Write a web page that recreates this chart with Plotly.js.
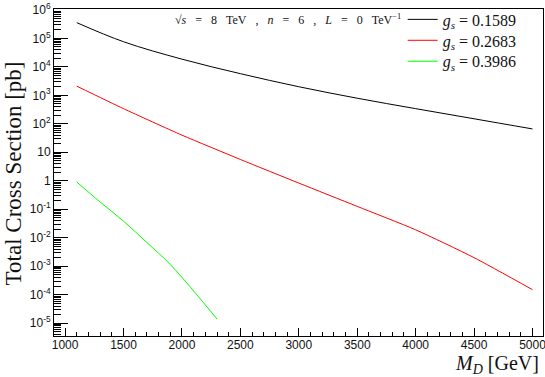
<!DOCTYPE html>
<html>
<head>
<meta charset="utf-8">
<script src="https://cdn.plot.ly/plotly-3.0.1.min.js"></script>
<style>
  html, body { margin: 0; padding: 0; background: #fff; }
  #chart { width: 545px; height: 377px; }
</style>
</head>
<body>
<div id="chart"></div>
<script>
// Mass points (GeV)
const massMain = [1100, 1500, 2000, 2500, 3000, 3500, 4000, 4500, 5000];
const massGreen = [1100, 1300, 1500, 1700, 1900, 2100, 2300];

// Total cross sections (pb)
const xsecG1589 = [3.55e5, 7.6e4, 1.86e4, 5.75e3, 2.0e3, 7.9e2, 3.4e2, 1.5e2, 66];
const xsecG2683 = [2.1e3, 3.4e2, 40, 5.6, 0.83, 0.126, 0.019, 2.0e-3, 1.5e-4];
const xsecG3986 = [0.9, 0.18, 0.038, 6.8e-3, 1.15e-3, 1.35e-4, 1.4e-5];

const seriesNames = [
    '<i>g<sub>s</sub></i> = 0.1589',
    '<i>g<sub>s</sub></i> = 0.2683',
    '<i>g<sub>s</sub></i> = 0.3986',
];

// Y tick labels
const yTickVals = [1e-5, 1e-4, 1e-3, 1e-2, 1e-1, 1, 10, 1e2, 1e3, 1e4, 1e5, 1e6];
const yTickText = ['10<sup>-5</sup>', '10<sup>-4</sup>', '10<sup>-3</sup>', '10<sup>-2</sup>',
    '10<sup>-1</sup>', '1', '10', '10<sup>2</sup>', '10<sup>3</sup>', '10<sup>4</sup>',
    '10<sup>5</sup>', '10<sup>6</sup>'];
const xTickVals = [1000, 1500, 2000, 2500, 3000, 3500, 4000, 4500, 5000];

// minor tick positions
const yMinor = [];
for (let e = -6; e <= 5; e++) {
    for (let m = 2; m <= 9; m++) yMinor.push(m * Math.pow(10, e));
}
const xMinor = [];
for (let v = 1000; v <= 5100; v += 100) xMinor.push(v);

const X_RANGE = [905, 5090];
const Y_RANGE = [-5.45, 6.03];
const SERIF = '"Liberation Serif", "DejaVu Serif", serif';
const SANS = '"Liberation Sans", Arial, sans-serif';

const data = [
    { x: massMain, y: xsecG1589, name: seriesNames[0], mode: 'lines', legend: 'legend',
      line: { color: '#000000', width: 1, shape: 'spline', smoothing: 1 } },
    { x: massMain, y: xsecG2683, name: seriesNames[1], mode: 'lines', legend: 'legend2',
      line: { color: '#ff0000', width: 1, shape: 'spline', smoothing: 0.6 } },
    { x: massGreen, y: xsecG3986, name: seriesNames[2], mode: 'lines', legend: 'legend3',
      line: { color: '#00ff00', width: 1, shape: 'spline', smoothing: 1 } },
    // empty trace so the minor-tick axes are drawn
    { x: [], y: [], xaxis: 'x2', yaxis: 'y2', showlegend: false, hoverinfo: 'skip' },
];

function legendAt(yPaper) {
    return {
        x: 0.713, y: yPaper, xanchor: 'left', yanchor: 'middle',
        bgcolor: 'rgba(0,0,0,0)', borderwidth: 0,
        font: { family: SERIF, size: 16, color: '#111' },
        itemwidth: 30,
    };
}

const sp = '&nbsp;&nbsp;&nbsp;';
const energyNote = '√<i>s</i>' + sp + '=' + sp + '8' + sp + 'TeV' + sp + ',' + sp + '<i>n</i>' + sp +
    '=' + sp + '6' + sp + ',' + sp + '<i>L</i>' + sp + '=' + sp + '0' + sp + 'TeV<sup>−1</sup>';

const layout = {
    width: 545,
    height: 377,
    paper_bgcolor: '#ffffff',
    plot_bgcolor: '#ffffff',
    margin: { l: 54, r: 2, t: 6, b: 41 },
    font: { family: SANS, size: 12, color: '#111' },
    showlegend: true,
    legend: legendAt(0.968),
    legend2: legendAt(0.904),
    legend3: legendAt(0.840),
    xaxis: {
        range: X_RANGE,
        tickmode: 'array', tickvals: xTickVals,
        ticks: 'inside', ticklen: 8, tickwidth: 1, tickcolor: '#000',
        showline: true, linecolor: '#000', linewidth: 1, mirror: true,
        showgrid: false, zeroline: false,
        ticklabelstandoff: -2,
        ticklabeloverflow: 'allow',
        tickfont: { family: SANS, size: 12, color: '#111' },
    },
    xaxis2: {
        range: X_RANGE, overlaying: 'x', anchor: 'y',
        tickmode: 'array', tickvals: xMinor,
        ticks: 'inside', ticklen: 4, tickwidth: 1, tickcolor: '#000',
        showticklabels: false, showgrid: false, zeroline: false, showline: false,
    },
    yaxis: {
        type: 'log', range: Y_RANGE,
        tickmode: 'array', tickvals: yTickVals, ticktext: yTickText,
        ticks: 'inside', ticklen: 14, tickwidth: 1, tickcolor: '#000',
        showline: true, linecolor: '#000', linewidth: 1, mirror: true,
        showgrid: false, zeroline: false,
        ticklabeloverflow: 'allow',
        tickfont: { family: SANS, size: 12, color: '#111' },
    },
    yaxis2: {
        type: 'log', range: Y_RANGE, overlaying: 'y', anchor: 'x', side: 'left',
        tickmode: 'array', tickvals: yMinor,
        ticks: 'inside', ticklen: 7, tickwidth: 1, tickcolor: '#000',
        showticklabels: false, showgrid: false, zeroline: false, showline: false,
    },
    annotations: [
        {
            text: 'Total Cross Section [pb]',
            xref: 'paper', yref: 'paper', x: -0.082, y: 0.497,
            xanchor: 'center', yanchor: 'middle', textangle: -90, showarrow: false,
            font: { family: SERIF, size: 23, color: '#111' },
        },
        {
            text: '<i>M<sub>D</sub></i> [GeV]',
            xref: 'paper', yref: 'paper', x: 0.996, y: -0.088,
            xanchor: 'right', yanchor: 'middle', showarrow: false,
            font: { family: SERIF, size: 20, color: '#111' },
        },
        {
            text: energyNote,
            xref: 'paper', yref: 'paper', x: 0.713, y: 0.968,
            xanchor: 'right', yanchor: 'middle', showarrow: false,
            font: { family: SERIF, size: 12, color: '#111' },
        },
    ],
};

Plotly.newPlot('chart', data, layout, { displayModeBar: false, staticPlot: true });
</script>
</body>
</html>
